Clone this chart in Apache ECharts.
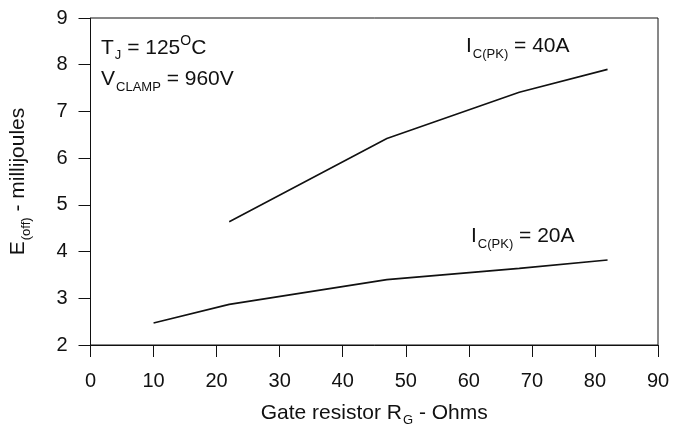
<!DOCTYPE html>
<html>
<head>
<meta charset="utf-8">
<script src="https://cdn.jsdelivr.net/npm/echarts@6/dist/echarts.min.js"></script>
<style>
  html, body { margin: 0; padding: 0; background: #fff; }
  #main { width: 684px; height: 434px; }
</style>
</head>
<body>
<div id="main"></div>
<script>
// gate resistor (ohms) vs turn-off energy (mJ)
var rg40 = [22, 47, 68, 82];
var eoff40 = [4.64, 6.42, 7.41, 7.9];
var rg20 = [10, 22, 47, 68, 82];
var eoff20 = [2.47, 2.87, 3.4, 3.64, 3.82];
var xTicks = [0, 10, 20, 30, 40, 50, 60, 70, 80, 90];
var yTicks = [2, 3, 4, 5, 6, 7, 8, 9];

function pairs(xs, ys) {
    return xs.map(function (x, i) { return [x, ys[i]]; });
}

var font = 'Liberation Sans, Arial, sans-serif';
var ink = '#111';

var myChart = echarts.init(document.getElementById('main'));

var richText = {
    m: { fontSize: 21, fontFamily: font, color: ink, lineHeight: 28, verticalAlign: 'middle' },
    sub: { fontSize: 13, fontFamily: font, color: ink, lineHeight: 13, verticalAlign: 'bottom', padding: [0, 0, 0, 1] },
    sup: { fontSize: 14, fontFamily: font, color: ink, lineHeight: 14, verticalAlign: 'top' }
};

function note(x, y, text) {
    return {
        type: 'text',
        left: x,
        top: y,
        style: { text: text, rich: richText, font: '21px ' + font, fill: ink }
    };
}

myChart.setOption({
    backgroundColor: '#fff',
    animation: false,
    grid: {
        left: 90, right: 26, top: 18, bottom: 89,
        show: true, borderColor: ink, borderWidth: 1
    },
    xAxis: {
        type: 'value',
        min: xTicks[0], max: xTicks[xTicks.length - 1], interval: 10,
        name: '{m|Gate resistor R}{sub|G}{m| - Ohms}',
        nameLocation: 'middle', nameGap: 54,
        nameTextStyle: { rich: richText },
        axisLine: { lineStyle: { color: ink, width: 1 } },
        axisTick: { show: true, length: 12, inside: false, lineStyle: { color: ink } },
        axisLabel: { fontSize: 20, fontFamily: font, color: ink, margin: 26 },
        splitLine: { show: false }
    },
    yAxis: {
        type: 'value',
        min: yTicks[0], max: yTicks[yTicks.length - 1], interval: 1,
        name: '{m|E}{sub|(off)}{m| - millijoules}',
        nameLocation: 'middle', nameGap: 58, nameRotate: 90,
        nameTextStyle: { rich: richText },
        axisLine: { lineStyle: { color: ink, width: 1 } },
        axisTick: { show: true, length: 12, inside: false, lineStyle: { color: ink } },
        axisLabel: { fontSize: 20, fontFamily: font, color: ink, margin: 23 },
        splitLine: { show: false }
    },
    series: [
        {
            name: 'IC(PK) = 40A',
            type: 'line',
            data: pairs(rg40, eoff40),
            showSymbol: false,
            lineStyle: { color: ink, width: 1.6 }
        },
        {
            name: 'IC(PK) = 20A',
            type: 'line',
            data: pairs(rg20, eoff20),
            showSymbol: false,
            lineStyle: { color: ink, width: 1.6 }
        }
    ],
    graphic: [
        note(101, 34, '{m|T}{sub|J}{m| = 125}{sup|O}{m|C}'),
        note(101, 69, '{m|V}{sub|CLAMP}{m| = 960V}'),
        note(466, 36, '{m|I}{sub|C(PK)}{m| = 40A}'),
        note(471, 226, '{m|I}{sub|C(PK)}{m| = 20A}')
    ]
});
</script>
</body>
</html>
